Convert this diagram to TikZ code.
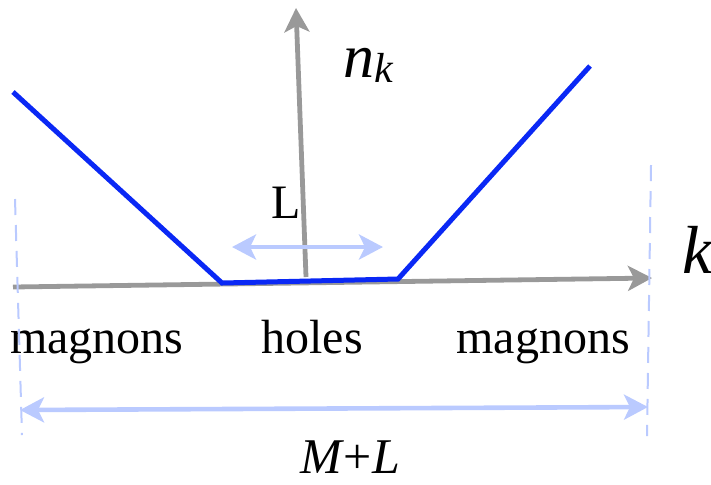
\documentclass[tikz,border=0pt]{standalone}
\usepackage{fontspec}
\setmainfont{Liberation Serif}
\usepackage{xcolor}
\usetikzlibrary{arrows.meta}
\definecolor{bandblue}{HTML}{0A28F5}
\definecolor{axisgray}{HTML}{999999}
\definecolor{spanblue}{HTML}{BACAFF}

\begin{document}
\begin{tikzpicture}[
  x=0.5pt,
  y=-0.5pt,
  every node/.style={font=\fontsize{24}{28}\selectfont, inner sep=0pt},
  >={Stealth[length=12pt, width=12.5pt, inset=3pt]}
]
  \useasboundingbox (0,0) rectangle (711,484);

  % axes
  \coordinate (kstart) at (13,287);
  \coordinate (kend) at (652,278);
  \coordinate (nbase) at (306,277);
  \coordinate (ntop) at (296,8);
  \draw[axisgray, line width=2.4pt, ->] (kstart) -- (kend);
  \draw[axisgray, line width=2.4pt, ->] (nbase) -- (ntop);
  \node[anchor=base west, font=\fontsize{34}{40}\selectfont] (klabel) at (682,273) {\textit{k}};
  \node[anchor=base west, font=\fontsize{31}{36}\selectfont] (nlabel) at (343,77)
    {\textit{n}\raisebox{-2.5pt}{\fontsize{21}{24}\selectfont\textit{k}}};

  % occupation
  \coordinate (bl) at (13,92);
  \coordinate (fl) at (222,283);
  \coordinate (fr) at (398,279);
  \coordinate (br) at (590,66);
  \draw[bandblue, line width=2.5pt] (bl) -- (fl) -- (fr) -- (br);

  % width of the hole region
  \coordinate (la) at (232,247);
  \coordinate (lb) at (383,247);
  \draw[spanblue, line width=2.3pt, <->] (la) -- (lb);
  \node[anchor=base] (llabel) at (286,218) {L};

  % regions
  \node[anchor=base] (magleft) at (97,353) {magnons};
  \node[anchor=base] (holes) at (312,353) {holes};
  \node[anchor=base] (magright) at (543,353) {magnons};

  % total length
  \coordinate (dlt) at (15,199);
  \coordinate (dlb) at (22,435);
  \coordinate (drt) at (651,165);
  \coordinate (drb) at (647,436);
  \draw[spanblue, line width=1pt, dash pattern=on 8pt off 5pt] (dlt) -- (dlb);
  \draw[spanblue, line width=1pt, dash pattern=on 8pt off 5pt] (drt) -- (drb);
  \coordinate (ma) at (20,410);
  \coordinate (mb) at (648,407);
  \draw[spanblue, line width=2.3pt, <->] (ma) -- (mb);
  \node[anchor=base, font=\fontsize{25}{30}\selectfont] (mlabel) at (350,473) {\textit{M}+\textit{L}};
\end{tikzpicture}
\end{document}
